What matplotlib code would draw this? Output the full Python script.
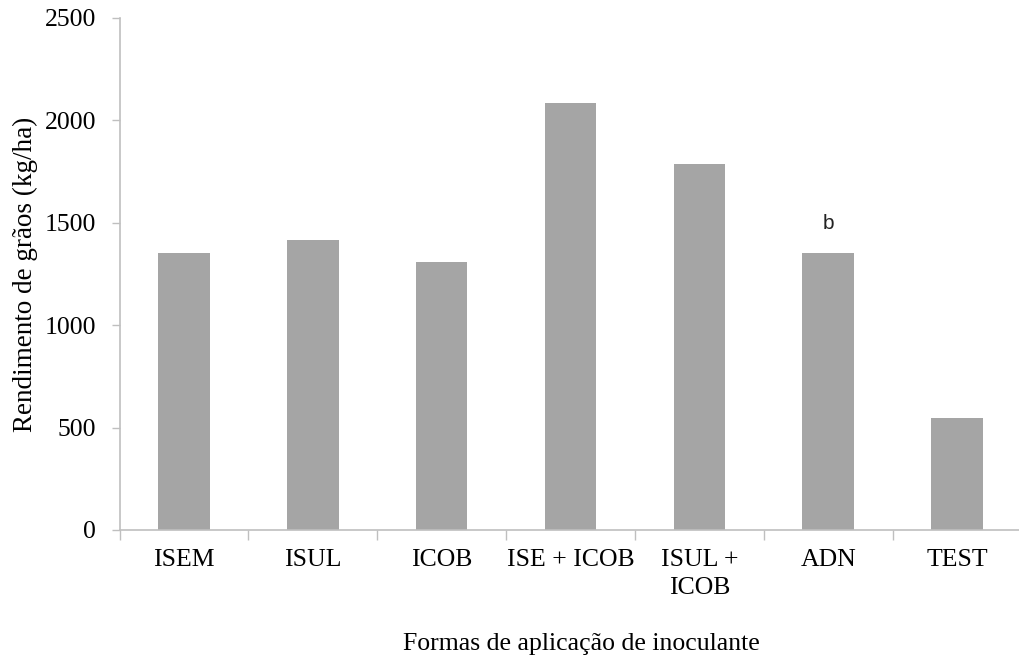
import numpy as np
import matplotlib
matplotlib.use("Agg")
import matplotlib.pyplot as plt

categorias = ["ISEM", "ISUL", "ICOB", "ISE + ICOB", "ISUL +\nICOB", "ADN", "TEST"]
rendimento = [1352, 1416, 1309, 2083, 1788, 1352, 547]
letras = ["", "", "", "", "", "b", ""]

plt.rcParams['font.family'] = ['Liberation Serif', 'DejaVu Serif']

fig = plt.figure(figsize=(10.19, 6.6), dpi=100)
ax = fig.add_axes([0.1174, 0.197, 0.885, 0.7758])

x = np.arange(len(categorias))
ax.bar(x, rendimento, width=0.4, color="#a5a5a5", zorder=2)

for xi, yi, t in zip(x, rendimento, letras):
    if t:
        ax.text(xi, yi + 100, t, ha="center", va="bottom", fontsize=15,
                family="Liberation Sans", color="#222222")

ax.set_xlim(-0.5, len(categorias) - 0.5)
ax.set_ylim(0, 2500)
ax.set_yticks([0, 500, 1000, 1500, 2000, 2500])

# ticks between the categories, labels centred
ax.set_xticks(np.arange(len(categorias) + 1) - 0.5)
ax.set_xticklabels([])
ax.set_xticks(x, minor=True)
ax.set_xticklabels(categorias, minor=True, fontsize=18.5, va="top", linespacing=1.35)
ax.tick_params(axis="x", which="minor", length=0, pad=14)
ax.tick_params(axis="x", which="major", length=7, width=1, color="#bfbfbf", direction="out")
ax.tick_params(axis="y", length=6, width=1, color="#bfbfbf", labelsize=18.5, pad=11)

for s in ["top", "right"]:
    ax.spines[s].set_visible(False)
for s in ["left", "bottom"]:
    ax.spines[s].set_color("#bfbfbf")
    ax.spines[s].set_linewidth(1.2)

ax.set_ylabel("Rendimento de grãos (kg/ha)", fontsize=19.5)
ax.yaxis.set_label_coords(-0.1049, 0.5)
ax.yaxis.label.set_va("center")
fig.text(581 / 1019, 1 - 644 / 660, "Formas de aplicação de inoculante", fontsize=18.5,
         ha="center", va="center")

plt.savefig("out.png", dpi=100)
